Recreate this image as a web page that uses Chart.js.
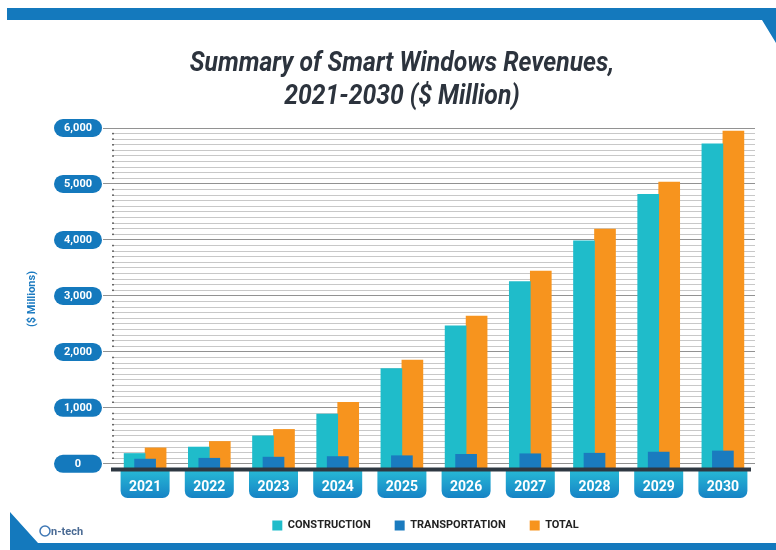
<!DOCTYPE html>
<html>
<head>
<meta charset="utf-8">
<script src="https://cdn.jsdelivr.net/npm/chart.js@4.4.1/dist/chart.umd.min.js"></script>
<style>
body { margin: 0; background: #fff; }
canvas { display: block; }
</style>
</head>
<body>
<canvas id="chart1" width="776" height="550"></canvas>
<script>
const years = ['2021', '2022', '2023', '2024', '2025', '2026', '2027', '2028', '2029', '2030']
const construction = [185, 300, 500, 890, 1700, 2465, 3255, 3985, 4815, 5715]
const transportation = [85, 100, 120, 130, 145, 170, 180, 190, 210, 230]
const total = [285, 400, 615, 1100, 1855, 2640, 3445, 4195, 5035, 5945]
const y_ticks = [0, 1000, 2000, 3000, 4000, 5000, 6000]
const title_lines = ['Summary of Smart Windows Revenues,', '2021-2030 ($ Million)']

const teal = '#1fbcca'
const blue = '#1a7bbf'
const orange = '#f7941e'
const frame_blue = '#1479bd'

function is_major(v){
    return y_ticks.includes(v)
}

// frame bands, pills behind the tick labels, baseline, title and logo
const decorations = {
    id: 'decorations',
    afterLayout(chart) {
        chart.legend.left += 38
        chart.legend.right += 38
    },
    beforeDraw(chart) {
        const ctx = chart.ctx
        const area = chart.chartArea
        const xs = chart.scales.x
        const ys = chart.scales.y
        ctx.save()
        ctx.fillStyle = frame_blue
        ctx.beginPath()
        ctx.moveTo(7, 8)
        ctx.lineTo(776, 8)
        ctx.lineTo(776, 43)
        ctx.lineTo(762, 20)
        ctx.lineTo(7, 20)
        ctx.closePath()
        ctx.fill()

        ctx.beginPath()
        ctx.moveTo(10, 512)
        ctx.lineTo(38, 543)
        ctx.lineTo(776, 543)
        ctx.lineTo(776, 550)
        ctx.lineTo(10, 550)
        ctx.closePath()
        ctx.fill()

        y_ticks.forEach(v => {
            const py = ys.getPixelForValue(v)
            ctx.beginPath()
            ctx.roundRect(54, py - 9, 48, 18, 9)
            ctx.fill()
        })

        years.forEach((yr, i) => {
            const px = xs.getPixelForValue(i)
            const g = ctx.createLinearGradient(0, area.bottom, 0, area.bottom + 28)
            g.addColorStop(0, '#27b9d6')
            g.addColorStop(1, '#1683c5')
            ctx.fillStyle = g
            ctx.beginPath()
            ctx.roundRect(px - 24.5, area.bottom, 49, 28, [0, 0, 7, 7])
            ctx.fill()
        })
        ctx.restore()
    },
    afterDatasetsDraw(chart) {
        const ctx = chart.ctx
        const area = chart.chartArea
        ctx.save()
        ctx.fillStyle = '#666'
        chart.scales.y.ticks.forEach(t => {
            if (!is_major(t.value)) {
                const py = chart.scales.y.getPixelForValue(t.value)
                ctx.fillRect(area.left - 1, py - 0.75, 2, 1.5)
            }
        })
        ctx.fillStyle = '#2e3842'
        ctx.fillRect(area.left - 2, area.bottom - 2.5, area.right - area.left - 2, 4)
        ctx.restore()
    },
    afterDraw(chart) {
        const ctx = chart.ctx
        ctx.save()
        ctx.fillStyle = '#2c333d'
        ctx.font = 'italic bold 27px Roboto'
        ctx.textAlign = 'center'
        ctx.textBaseline = 'alphabetic'
        title_lines.forEach((line, i) => {
            ctx.save()
            ctx.translate(402, 71 + i * 33)
            ctx.scale(0.915, 1)
            ctx.fillText(line, 0, 0)
            ctx.restore()
        })

        // logo
        ctx.strokeStyle = '#3f78b5'
        ctx.lineWidth = 1.5
        ctx.beginPath()
        ctx.arc(45, 531, 5, 0, Math.PI * 2)
        ctx.stroke()
        ctx.fillStyle = '#4b6b94'
        ctx.font = 'bold 11px Roboto'
        ctx.textAlign = 'left'
        ctx.fillText('n-tech', 51, 535)
        ctx.restore()
    }
}

const ctx1 = document.getElementById('chart1')
const myChart = new Chart(ctx1, {
    type: 'bar',
    data: {
        labels: years,
        datasets: [{
            label: 'CONSTRUCTION',
            data: construction,
            backgroundColor: teal,
            barThickness: 21,
            base: -110,
            order: 1
        }, {
            label: 'TRANSPORTATION',
            data: transportation,
            backgroundColor: blue,
            barThickness: 21,
            base: -110,
            grouped: false,
            order: 0
        }, {
            label: 'TOTAL',
            data: total,
            backgroundColor: orange,
            barThickness: 21,
            base: -110,
            order: 1
        }]
    },
    options: {
        responsive: false,
        animation: false,
        layout: {
            padding: {top: 128, left: 20, right: 21, bottom: 9}
        },
        scales: {
            x: {
                grid: {display: false},
                border: {display: false},
                ticks: {
                    color: '#fff',
                    padding: 1,
                    font: {family: 'Roboto', size: 14, weight: 'bold'}
                },
                afterFit: function(scale){ scale.height = 26 }
            },
            y: {
                min: -110,
                max: 6000,
                border: {display: false},
                grid: {
                    drawTicks: true,
                    tickLength: 10,
                    lineWidth: 1,
                    color: c => is_major(c.tick.value) ? '#929292' : '#c8c8c8',
                    tickColor: c => is_major(c.tick.value) ? '#929292' : 'rgba(0,0,0,0)'
                },
                ticks: {
                    autoSkip: false,
                    crossAlign: 'center',
                    padding: 11,
                    color: '#fff',
                    font: {family: 'Roboto', size: 11, weight: 'bold'},
                    callback: function(value){
                        return is_major(value) ? value.toLocaleString('en-US') : ''
                    }
                },
                // a line every 100, labels only on the thousands
                afterBuildTicks: function(scale){
                    const ticks = []
                    for (let v = 0; v <= 6000; v += 100) ticks.push({value: v})
                    scale.ticks = ticks
                },
                afterFit: function(scale){ scale.width = 93 },
                title: {
                    display: true,
                    text: '($ Millions)',
                    color: '#1b7ac0',
                    padding: {top: 6, bottom: 0},
                    font: {family: 'Roboto', size: 11, weight: 'bold'}
                }
            }
        },
        plugins: {
            legend: {
                position: 'bottom',
                labels: {
                    boxWidth: 10,
                    boxHeight: 10,
                    padding: 24,
                    color: '#222',
                    font: {family: 'Roboto', size: 11, weight: 'bold'},
                    sort: (a, b) => a.datasetIndex - b.datasetIndex
                }
            },
            title: {display: false},
            tooltip: {enabled: false}
        }
    },
    plugins: [decorations]
})
</script>
</body>
</html>
